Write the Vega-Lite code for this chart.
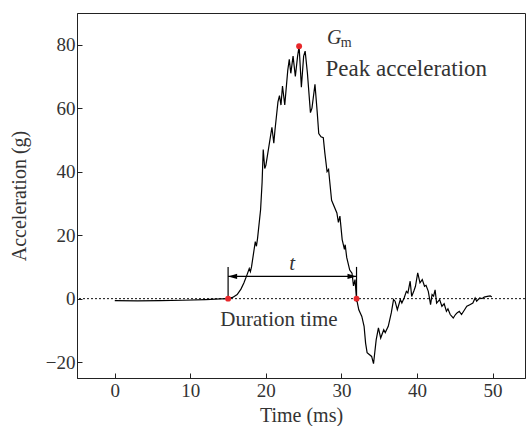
{
  "$schema": "https://vega.github.io/schema/vega-lite/v6.json",
  "width": 448,
  "height": 365,
  "autosize": {"type": "none"},
  "padding": {"left": 77, "top": 13, "right": 1, "bottom": 48},
  "background": "white",
  "config": {
    "font": "Liberation Serif",
    "view": {"stroke": "#222", "strokeWidth": 1},
    "axis": {
      "grid": false,
      "domainColor": "#222",
      "tickColor": "#222",
      "labelColor": "#333",
      "titleColor": "#333",
      "labelFont": "Liberation Serif",
      "titleFont": "Liberation Serif",
      "labelFontSize": 19,
      "titleFontSize": 20,
      "titleFontWeight": "normal",
      "tickSize": -5,
      "labelPadding": 7
    }
  },
  "datasets": {
    "curve": [
      {"t": 0, "a": -0.6}, {"t": 3, "a": -0.7}, {"t": 6, "a": -0.6}, {"t": 9, "a": -0.5},
      {"t": 12, "a": -0.3}, {"t": 14, "a": -0.1}, {"t": 15, "a": 0}, {"t": 15.6, "a": 0.4},
      {"t": 16.2, "a": 1.3}, {"t": 16.7, "a": 3}, {"t": 17.1, "a": 5}, {"t": 17.5, "a": 7.5},
      {"t": 17.8, "a": 9.5}, {"t": 17.95, "a": 8.5}, {"t": 18.1, "a": 10}, {"t": 18.6, "a": 18},
      {"t": 18.75, "a": 16.5}, {"t": 18.9, "a": 19}, {"t": 19.3, "a": 28}, {"t": 19.5, "a": 36.6},
      {"t": 19.65, "a": 47}, {"t": 19.85, "a": 41}, {"t": 20.0, "a": 42}, {"t": 20.6, "a": 51},
      {"t": 20.8, "a": 54}, {"t": 21.05, "a": 49}, {"t": 21.2, "a": 53}, {"t": 21.6, "a": 62},
      {"t": 21.8, "a": 64}, {"t": 22.0, "a": 61}, {"t": 22.2, "a": 67}, {"t": 22.5, "a": 61},
      {"t": 22.9, "a": 72}, {"t": 23.1, "a": 75.4}, {"t": 23.3, "a": 71}, {"t": 23.6, "a": 76.4},
      {"t": 23.9, "a": 70}, {"t": 24.2, "a": 76.4}, {"t": 24.4, "a": 79.5}, {"t": 24.7, "a": 66.6},
      {"t": 25.0, "a": 76.4}, {"t": 25.2, "a": 78}, {"t": 25.5, "a": 71}, {"t": 25.9, "a": 58.6},
      {"t": 26.1, "a": 60}, {"t": 26.5, "a": 67.5}, {"t": 26.8, "a": 58.6}, {"t": 27.0, "a": 52},
      {"t": 27.3, "a": 51}, {"t": 27.6, "a": 50.7}, {"t": 27.8, "a": 46}, {"t": 28.1, "a": 40},
      {"t": 28.3, "a": 40.7}, {"t": 28.45, "a": 37}, {"t": 28.7, "a": 31}, {"t": 29.4, "a": 27},
      {"t": 29.6, "a": 24}, {"t": 29.8, "a": 26}, {"t": 30.1, "a": 18.6}, {"t": 30.4, "a": 15.5},
      {"t": 30.5, "a": 17}, {"t": 30.7, "a": 13}, {"t": 31.1, "a": 9}, {"t": 31.4, "a": 8},
      {"t": 31.6, "a": 4}, {"t": 31.8, "a": 6}, {"t": 32.0, "a": 0}, {"t": 32.3, "a": -3.5},
      {"t": 32.7, "a": -5.6}, {"t": 33.0, "a": -8.7}, {"t": 33.2, "a": -14}, {"t": 33.4, "a": -17},
      {"t": 34.0, "a": -18.2}, {"t": 34.25, "a": -20.5}, {"t": 34.6, "a": -13}, {"t": 34.9, "a": -9.2},
      {"t": 35.2, "a": -12.4}, {"t": 35.6, "a": -9.8}, {"t": 35.8, "a": -10.7}, {"t": 36.2, "a": -8.7},
      {"t": 36.6, "a": -4.5}, {"t": 36.9, "a": -0.3}, {"t": 37.1, "a": -0.8}, {"t": 37.4, "a": -3.5},
      {"t": 37.8, "a": -0.3}, {"t": 38.0, "a": -1.4}, {"t": 38.3, "a": 0.2}, {"t": 38.6, "a": 2.3},
      {"t": 38.8, "a": 1.8}, {"t": 39.1, "a": 5.5}, {"t": 39.3, "a": 0.7}, {"t": 39.6, "a": 2.5},
      {"t": 39.8, "a": 3.9}, {"t": 40.1, "a": 8.1}, {"t": 40.4, "a": 5}, {"t": 40.7, "a": 6},
      {"t": 41.0, "a": 3.9}, {"t": 41.2, "a": 4.2}, {"t": 41.5, "a": 2.3}, {"t": 41.8, "a": -1.9},
      {"t": 42.0, "a": 1.3}, {"t": 42.2, "a": 0.8}, {"t": 42.4, "a": 2.8}, {"t": 42.6, "a": -1.4},
      {"t": 43.0, "a": -0.3}, {"t": 43.3, "a": -2.4}, {"t": 43.6, "a": -1.6}, {"t": 43.9, "a": -4},
      {"t": 44.1, "a": -3.2}, {"t": 44.4, "a": -5}, {"t": 44.8, "a": -6.1}, {"t": 45.1, "a": -5},
      {"t": 45.3, "a": -4.5}, {"t": 45.6, "a": -4.0}, {"t": 45.9, "a": -5}, {"t": 46.3, "a": -3.5},
      {"t": 46.6, "a": -2.4}, {"t": 47.0, "a": -1.9}, {"t": 47.4, "a": -1.4}, {"t": 47.7, "a": 0.2},
      {"t": 47.9, "a": -0.8}, {"t": 48.3, "a": 0.2}, {"t": 48.6, "a": 0}, {"t": 48.9, "a": 0.5},
      {"t": 49.3, "a": 0.7}, {"t": 49.7, "a": 0.9}, {"t": 49.9, "a": 0.5}
    ],
    "bars": [{"t": 15, "a0": 0, "a1": 10}, {"t": 32, "a0": -1, "a1": 10}],
    "span": [{"t0": 15, "t1": 32, "a": 7}],
    "heads": [{"t": 15.6, "a": 7, "dir": "left"}, {"t": 31.4, "a": 7, "dir": "right"}],
    "dots": [{"t": 15, "a": 0}, {"t": 24.4, "a": 79.5}, {"t": 32, "a": 0}],
    "peak": [{"t": 27.9, "a": 70.1, "label": "Peak acceleration"}],
    "dur": [{"t": 13.97, "a": -8.7, "label": "Duration time"}],
    "gsym": [{"t": 28.1, "a": 80.3, "label": "G"}],
    "tsym": [{"t": 23.1, "a": 9.1, "label": "t"}],
    "sub": [{"t": 29.9, "a": 79.4, "label": "m"}]
  },
  "encoding": {
    "x": {"field": "t", "type": "quantitative", "scale": {"domain": [-5, 54.3], "nice": false, "zero": false},
      "axis": {"values": [0, 10, 20, 30, 40, 50], "title": "Time (ms)", "titlePadding": 5, "labelPadding": 8}},
    "y": {"field": "a", "type": "quantitative", "scale": {"domain": [-25, 90], "nice": false, "zero": false},
      "axis": {"values": [-20, 0, 20, 40, 60, 80], "title": "Acceleration (g)", "titlePadding": 16}}
  },
  "layer": [
    {
      "data": {"values": [{"z": 0}]},
      "mark": {"type": "rule", "color": "#111", "strokeDash": [2, 2], "strokeWidth": 1},
      "encoding": {"x": null, "y": {"field": "z", "type": "quantitative"}}
    },
    {
      "data": {"name": "curve"},
      "mark": {"type": "line", "color": "#000", "strokeWidth": 1.2}
    },
    {
      "data": {"name": "bars"},
      "mark": {"type": "rule", "color": "#000", "strokeWidth": 1.2},
      "encoding": {"y": {"field": "a0", "type": "quantitative"}, "y2": {"field": "a1"}}
    },
    {
      "data": {"name": "span"},
      "mark": {"type": "rule", "color": "#000", "strokeWidth": 1.2},
      "encoding": {"x": {"field": "t0", "type": "quantitative"}, "x2": {"field": "t1"}}
    },
    {
      "data": {"name": "heads"},
      "transform": [{"filter": "datum.dir == 'left'"}],
      "mark": {"type": "point", "filled": true, "color": "#000", "opacity": 1, "size": 80, "shape": "M-1,0L1,-0.6L1,0.6Z"}
    },
    {
      "data": {"name": "heads"},
      "transform": [{"filter": "datum.dir == 'right'"}],
      "mark": {"type": "point", "filled": true, "color": "#000", "opacity": 1, "size": 80, "shape": "M1,0L-1,-0.6L-1,0.6Z"}
    },
    {
      "data": {"name": "dots"},
      "mark": {"type": "point", "filled": true, "color": "#e8282b", "opacity": 1, "size": 35, "shape": "circle"}
    },
    {
      "data": {"name": "peak"},
      "mark": {"type": "text", "align": "left", "baseline": "alphabetic", "fontSize": 23, "color": "#333", "font": "Liberation Serif"},
      "encoding": {"text": {"field": "label"}}
    },
    {
      "data": {"name": "dur"},
      "mark": {"type": "text", "align": "left", "baseline": "alphabetic", "fontSize": 21, "color": "#333", "font": "Liberation Serif"},
      "encoding": {"text": {"field": "label"}}
    },
    {
      "data": {"name": "gsym"},
      "mark": {"type": "text", "align": "left", "baseline": "alphabetic", "fontSize": 20, "fontStyle": "italic", "color": "#333", "font": "Liberation Serif"},
      "encoding": {"text": {"field": "label"}}
    },
    {
      "data": {"name": "tsym"},
      "mark": {"type": "text", "align": "left", "baseline": "alphabetic", "fontSize": 21, "fontStyle": "italic", "color": "#333", "font": "Liberation Serif"},
      "encoding": {"text": {"field": "label"}}
    },
    {
      "data": {"name": "sub"},
      "mark": {"type": "text", "align": "left", "baseline": "alphabetic", "fontSize": 14, "color": "#333", "font": "Liberation Serif"},
      "encoding": {"text": {"field": "label"}}
    }
  ]
}
